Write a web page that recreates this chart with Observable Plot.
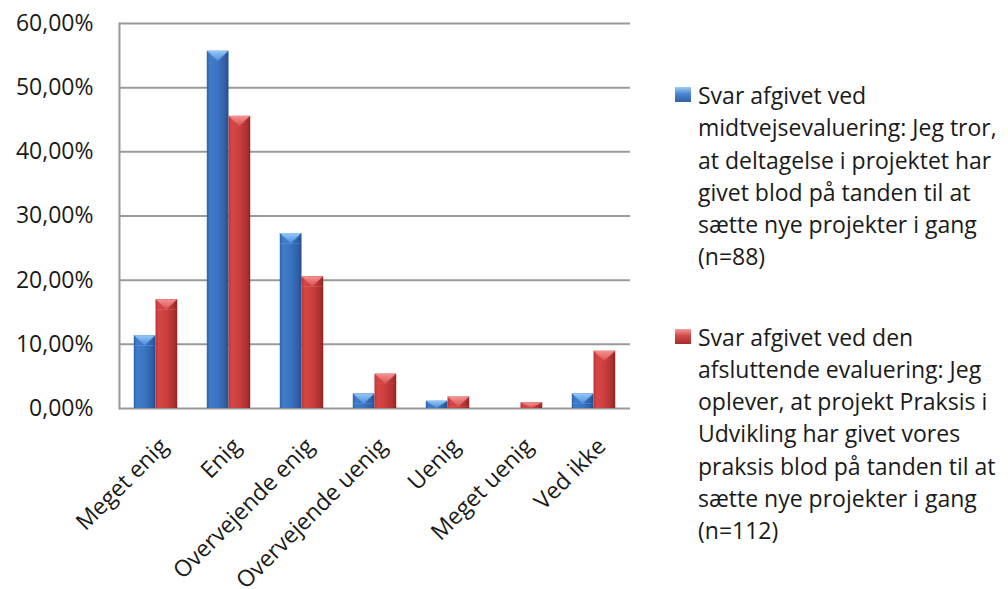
<!DOCTYPE html>
<html>
<head>
<meta charset="utf-8">
<script src="https://cdn.jsdelivr.net/npm/d3@7"></script>
<script src="https://cdn.jsdelivr.net/npm/@observablehq/plot@0.6"></script>
<style>
  body { margin: 0; background: #fff; }
  #chart { position: relative; width: 1008px; height: 589px; overflow: hidden; font-family: "Open Sans", sans-serif; color: #1a1a1a; }
  #chart svg { position: absolute; left: 0; top: 0; }
  #legend { position: absolute; left: 675px; top: 0; font-size: 23px; line-height: 32.3px; }
  .item { position: absolute; left: 0; white-space: nowrap; }
  .swatch { position: absolute; left: 0; width: 16px; height: 15px; }
  .lines { position: absolute; left: 23px; top: 0; }
</style>
</head>
<body>
<div id="chart"><div id="legend"></div></div>
<script>
// Answer categories along the x axis
const categories = ["Meget enig", "Enig", "Overvejende enig", "Overvejende uenig", "Uenig", "Meget uenig", "Ved ikke"];

// Share of answers (%) per category
const midtvejsValues = [11.36, 55.68, 27.27, 2.27, 1.14, 0, 2.27];   // midtvejsevaluering, n=88
const afsluttendeValues = [16.96, 45.54, 20.54, 5.36, 1.79, 0.89, 8.93]; // afsluttende evaluering, n=112

const seriesKeys = ["midtvejs", "afsluttende"];

// Y axis ticks (%)
const yTicks = [0, 10, 20, 30, 40, 50, 60];

// Legend entries, one array of text lines per series
const legendMidtvejs = [
  "Svar afgivet ved",
  "midtvejsevaluering: Jeg tror,",
  "at deltagelse i projektet har",
  "givet blod på tanden til at",
  "sætte nye projekter i gang",
  "(n=88)"
];
const legendAfsluttende = [
  "Svar afgivet ved den",
  "afsluttende evaluering: Jeg",
  "oplever, at projekt Praksis i",
  "Udvikling har givet vores",
  "praksis blod på tanden til at",
  "sætte nye projekter i gang",
  "(n=112)"
];

// Long table for the grouped bars
const rows = [];
categories.forEach((c, i) => {
  rows.push({category: c, series: "midtvejs", value: midtvejsValues[i]});
  rows.push({category: c, series: "afsluttende", value: afsluttendeValues[i]});
});

const fills = {midtvejs: "url(#barBlue)", afsluttende: "url(#barRed)"};
const bevels = {midtvejs: "url(#bevelBlue)", afsluttende: "url(#bevelRed)"};
const BEVEL = 1.6; // depth of the bevelled top, in percentage points

const fmt = d => d.toFixed(2).replace(".", ",") + "%";
const gridColor = "#9a9a9a";

const plot = Plot.plot({
  width: 1008,
  height: 589,
  marginTop: 23,
  marginBottom: 181,
  marginLeft: 116,
  marginRight: 375,
  style: {fontFamily: "'Open Sans', sans-serif", fontSize: "23px", color: "#1a1a1a", background: "transparent"},
  fx: {domain: categories, padding: 0, label: null},
  x: {domain: seriesKeys, axis: null, paddingInner: 0, paddingOuter: 0.68, round: false},
  y: {domain: [0, 60], ticks: yTicks, tickFormat: fmt, tickSize: 0, tickPadding: 26, label: null},
  marks: [
    Plot.gridY(yTicks, {stroke: gridColor, strokeOpacity: 1, strokeWidth: 2}),
    Plot.frame({anchor: "left", facetAnchor: "left", stroke: gridColor, strokeWidth: 2}),
    Plot.barY(rows, {
      fx: "category", x: "series", y: "value",
      fill: d => fills[d.series]
    }),
    Plot.barY(rows, {
      fx: "category", x: "series",
      y1: "value", y2: d => Math.max(0, d.value - BEVEL),
      fill: d => bevels[d.series]
    }),
    Plot.axisFx({anchor: "bottom", tickRotate: -45, tickSize: 0, tickPadding: 34, dx: 8, label: null})
  ]
});

// Gradients giving the bars their bevelled look
const defs = `
<defs>
  <linearGradient id="barBlue" x1="0" x2="1" y1="0" y2="0">
    <stop offset="0" stop-color="#2f62a6"/>
    <stop offset="0.15" stop-color="#3f7ccb"/>
    <stop offset="0.5" stop-color="#3a74c2"/>
    <stop offset="0.85" stop-color="#2e5fa6"/>
    <stop offset="1" stop-color="#234b86"/>
  </linearGradient>
  <linearGradient id="barRed" x1="0" x2="1" y1="0" y2="0">
    <stop offset="0" stop-color="#b83535"/>
    <stop offset="0.15" stop-color="#d64646"/>
    <stop offset="0.5" stop-color="#cc3e3e"/>
    <stop offset="0.85" stop-color="#ad2f2f"/>
    <stop offset="1" stop-color="#8c2323"/>
  </linearGradient>
  <linearGradient id="bevelBlueGrad" x1="0" x2="0" y1="0" y2="1">
    <stop offset="0" stop-color="#93c8f8"/>
    <stop offset="1" stop-color="#4f8edb"/>
  </linearGradient>
  <linearGradient id="bevelRedGrad" x1="0" x2="0" y1="0" y2="1">
    <stop offset="0" stop-color="#f69292"/>
    <stop offset="1" stop-color="#d85252"/>
  </linearGradient>
  <pattern id="bevelBlue" patternUnits="objectBoundingBox" patternContentUnits="objectBoundingBox" width="1" height="1">
    <polygon points="0,0 1,0 0.5,1" fill="url(#bevelBlueGrad)"/>
  </pattern>
  <pattern id="bevelRed" patternUnits="objectBoundingBox" patternContentUnits="objectBoundingBox" width="1" height="1">
    <polygon points="0,0 1,0 0.5,1" fill="url(#bevelRedGrad)"/>
  </pattern>
</defs>`;
plot.insertAdjacentHTML("afterbegin", defs);

const chart = document.getElementById("chart");
chart.insertBefore(plot, chart.firstChild);

// Legend to the right of the plot
const legend = document.getElementById("legend");
const legendItems = [
  {lines: legendMidtvejs, top: 79, swatch: "linear-gradient(180deg,#9ccdf8 0%,#4a86d2 45%,#2f62a6 100%)"},
  {lines: legendAfsluttende, top: 320.5, swatch: "linear-gradient(180deg,#f79a9a 0%,#d24a4a 45%,#a82c2c 100%)"}
];
legendItems.forEach(item => {
  const el = document.createElement("div");
  el.className = "item";
  el.style.top = item.top + "px";
  const sw = document.createElement("div");
  sw.className = "swatch";
  sw.style.top = "8px";
  sw.style.background = item.swatch;
  el.appendChild(sw);
  const txt = document.createElement("div");
  txt.className = "lines";
  item.lines.forEach(line => {
    const l = document.createElement("div");
    l.textContent = line;
    txt.appendChild(l);
  });
  el.appendChild(txt);
  legend.appendChild(el);
});
</script>
</body>
</html>
